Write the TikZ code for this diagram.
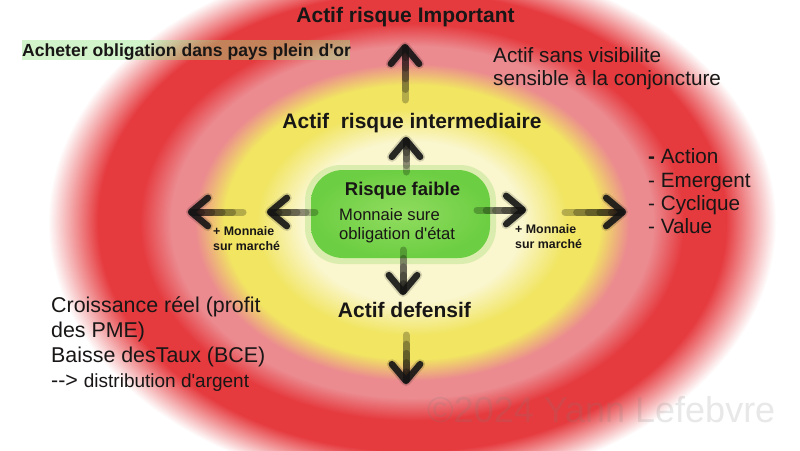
\documentclass[tikz,border=0pt]{standalone}
\usepackage{fontspec}
\setmainfont{Liberation Sans}
\usetikzlibrary{calc}
\definecolor{redc}{RGB}{229,58,62}
\definecolor{pinkc}{RGB}{235,138,143}
\definecolor{yel}{RGB}{241,229,98}
\definecolor{paleY}{RGB}{250,246,205}
\definecolor{grn}{RGB}{108,206,66}
\definecolor{grnL}{RGB}{145,220,95}
\definecolor{ink}{RGB}{25,22,22}
\definecolor{hil}{RGB}{150,230,130}
\pgfdeclareradialshading{zones}{\pgfpointorigin}{color(0bp)=(paleY); color(7.5bp)=(paleY); color(10.5bp)=(yel); color(12.7bp)=(yel); color(14.7bp)=(pinkc); color(16.3bp)=(pinkc); color(18.4bp)=(redc); color(21.2bp)=(redc); color(24.6bp)=(white); color(50bp)=(white)}
\newcommand\fuzzarrow[2]{%
  \foreach \t in {0,0.2,0.4,0.6,0.8}{
    \draw[shaft] ($(#1)!\t!(#2)$) -- ($(#1)!0.97!(#2)$);
  }
  \draw[headglow] ($(#2)!22pt!40:(#1)$) -- (#2) -- ($(#2)!22pt!-40:(#1)$);
  \draw[headline] ($(#2)!22pt!40:(#1)$) -- (#2) -- ($(#2)!22pt!-40:(#1)$);
}
\begin{document}
\begin{tikzpicture}[x=1pt,y=-1pt,
  txt/.style={inner sep=0pt, text=ink},
  bigb/.style={txt, font=\bfseries\fontsize{21}{25}\selectfont},
  reg/.style={txt, font=\fontsize{20.7}{23.5}\selectfont},
  small/.style={txt, font=\bfseries\fontsize{12.4}{15}\selectfont, align=left},
  shaft/.style={line width=7pt, line cap=round, black, opacity=0.25},
  headline/.style={line width=6.5pt, line cap=round, line join=round, black!92, opacity=0.9},
  headglow/.style={line width=10pt, line cap=round, line join=round, black, opacity=0.15}]
\useasboundingbox (0,0) rectangle (800,450);
\fill[white] (0,0) rectangle (800,450);
% zones
\shade[shading=zones] (412,222) ellipse [x radius=370pt, y radius=270pt];
% green blob
\fill[grn, opacity=0.22, rounded corners=36pt] (305,165) rectangle (496,264);
\shade[inner color=grnL, outer color=grn, rounded corners=32pt] (311,170) rectangle (490,258);
% highlight
\fill[hil, opacity=0.42] (22,40) rectangle (350,60);
% coordinates for arrows
\coordinate (u1t) at (405,100); \coordinate (u1h) at (405,47);
\coordinate (u2t) at (406,172); \coordinate (u2h) at (406,140);
\coordinate (d1t) at (403,250); \coordinate (d1h) at (403,292);
\coordinate (d2t) at (406,335); \coordinate (d2h) at (406,381);
\coordinate (l1t) at (243,212); \coordinate (l1h) at (191,212);
\coordinate (l2t) at (315,212); \coordinate (l2h) at (270,212);
\coordinate (r1t) at (477,210); \coordinate (r1h) at (523,210);
\coordinate (r2t) at (565,212); \coordinate (r2h) at (623,212);
\fuzzarrow{u1t}{u1h}
\fuzzarrow{u2t}{u2h}
\fuzzarrow{d1t}{d1h}
\fuzzarrow{d2t}{d2h}
\fuzzarrow{l1t}{l1h}
\fuzzarrow{l2t}{l2h}
\fuzzarrow{r1t}{r1h}
\fuzzarrow{r2t}{r2h}
% texts
\node[bigb, anchor=base] (top) at (405.5,22) {Actif risque Important};
\node[txt, anchor=base west, font=\bfseries\fontsize{17.6}{20}\selectfont] (buy) at (22,56) {Acheter obligation dans pays plein d\textquotesingle or};
\node[reg, anchor=base west] (vis1) at (493,62) {Actif sans visibilite};
\node[reg, anchor=base west] (vis2) at (493,85) {sensible à la conjoncture};
\node[bigb, anchor=base] (mid) at (412,128) {Actif\ \ risque intermediaire};
\node[txt, anchor=base, font=\bfseries\fontsize{18.5}{21}\selectfont] (low) at (402.5,195) {Risque faible};
\node[txt, anchor=base west, font=\fontsize{16.6}{19}\selectfont] (mon1) at (339,220) {Monnaie sure};
\node[txt, anchor=base west, font=\fontsize{16.6}{19}\selectfont] (mon2) at (339,239) {obligation d\textquotesingle état};
\node[small, anchor=base west] (lm1) at (213,235) {+ Monnaie};
\node[small, anchor=base west] (lm2) at (213,250) {sur marché};
\node[small, anchor=base west] (rm1) at (515,233) {+ Monnaie};
\node[small, anchor=base west] (rm2) at (515,248) {sur marché};
\node[bigb, anchor=base] (def) at (404.5,317) {Actif defensif};
\node[reg, anchor=base west] (li1) at (648,163) {\textbf{-} Action};
\node[reg, anchor=base west] (li2) at (648,187) {- Emergent};
\node[reg, anchor=base west] (li3) at (648,210) {- Cyclique};
\node[reg, anchor=base west] (li4) at (648,233) {- Value};
\node[txt, anchor=base west, font=\fontsize{21.4}{25}\selectfont] (cr1) at (51,312) {Croissance réel (profit};
\node[txt, anchor=base west, font=\fontsize{21.4}{25}\selectfont] (cr2) at (51,337) {des PME)};
\node[txt, anchor=base west, font=\fontsize{21.4}{25}\selectfont] (cr3) at (51,362) {Baisse desTaux (BCE)};
\node[txt, anchor=base west, font=\fontsize{21.4}{25}\selectfont] (cr4) at (51,387) {-\kern0pt-\kern0pt> {\fontsize{19}{22}\selectfont distribution d\textquotesingle argent}};
\node[inner sep=0pt, anchor=base west, text=gray, text opacity=0.18, font=\fontsize{36}{40}\selectfont] (wm) at (427,422) {©2024 Yann Lefebvre};
\end{tikzpicture}
\end{document}
